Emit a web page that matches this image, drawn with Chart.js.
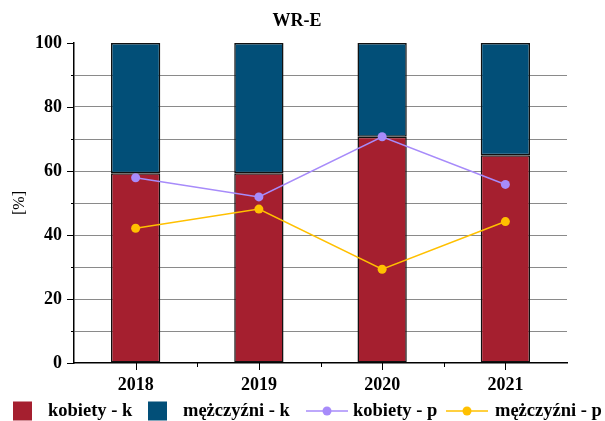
<!DOCTYPE html>
<html>
<head>
<meta charset="utf-8">
<script src="https://cdn.jsdelivr.net/npm/chart.js@4.4.1/dist/chart.umd.min.js"></script>
<style>
  html, body { margin: 0; padding: 0; background: #fff; }
  #wrap { position: relative; width: 605px; height: 421px; }
</style>
</head>
<body>
<div id="wrap"><canvas id="chart" width="605" height="421"></canvas></div>
<script>
const years = ["2018", "2019", "2020", "2021"];
const kobietyK = [59.3, 59.3, 70.7, 64.9];
const mezczyzniK = [40.7, 40.7, 29.3, 35.1];
const kobietyP = [57.9, 51.9, 70.7, 55.8];
const mezczyzniP = [42.1, 48.1, 29.3, 44.2];

const RED = "#A51F2F";
const BLUE = "#024F78";
const PURPLE = "#A78BFA";
const YELLOW = "#FFC000";
const FONT = "'Liberation Serif', 'DejaVu Serif', serif";

// small tick marks on both axes (major/minor)
const tickMarks = {
  id: "tickMarks",
  afterDraw(chart) {
    const { ctx, chartArea, scales: { x, y } } = chart;
    ctx.save();
    ctx.strokeStyle = "#000";
    ctx.lineWidth = 1;
    ctx.beginPath();
    for (let v = 0; v <= 100; v += 10) {
      const py = Math.round(y.getPixelForValue(v)) + 0.5;
      const len = v % 20 === 0 ? 7 : 3;
      ctx.moveTo(chartArea.left - len, py);
      ctx.lineTo(chartArea.left, py);
    }
    years.forEach((_, i) => {
      const px = Math.round(x.getPixelForValue(i)) + 0.5;
      ctx.moveTo(px, chartArea.bottom);
      ctx.lineTo(px, chartArea.bottom + 7);
      if (i < years.length - 1) {
        const mx = Math.round((x.getPixelForValue(i) + x.getPixelForValue(i + 1)) / 2) + 0.5;
        ctx.moveTo(mx, chartArea.bottom);
        ctx.lineTo(mx, chartArea.bottom + 4);
      }
    });
    ctx.stroke();
    ctx.restore();
  }
};

// title and legend drawn by hand to match the original layout
const titleAndLegend = {
  id: "titleAndLegend",
  afterDraw(chart) {
    const ctx = chart.ctx;
    ctx.save();
    ctx.fillStyle = "#000";
    ctx.font = "bold 18px " + FONT;
    ctx.textAlign = "center";
    ctx.textBaseline = "middle";
    ctx.fillText("WR-E", 297, 21);

    const ly = 411;
    ctx.textAlign = "left";
    ctx.font = "bold 18.5px " + FONT;
    const items = [
      { type: "box", color: RED, x: 13, text: "kobiety - k", tx: 48 },
      { type: "box", color: BLUE, x: 148, text: "mężczyźni - k", tx: 183 },
      { type: "line", color: PURPLE, x: 306, text: "kobiety - p", tx: 353 },
      { type: "line", color: YELLOW, x: 446, text: "mężczyźni - p", tx: 495 }
    ];
    items.forEach(it => {
      if (it.type === "box") {
        ctx.fillStyle = it.color;
        ctx.fillRect(it.x, ly - 9.5, 19, 19);
      } else {
        ctx.strokeStyle = it.color;
        ctx.lineWidth = 1.5;
        ctx.beginPath();
        ctx.moveTo(it.x, ly);
        ctx.lineTo(it.x + 42, ly);
        ctx.stroke();
        ctx.fillStyle = it.color;
        ctx.beginPath();
        ctx.arc(it.x + 21, ly, 4.5, 0, Math.PI * 2);
        ctx.fill();
      }
      ctx.fillStyle = "#000";
      ctx.fillText(it.text, it.tx, ly);
    });
    ctx.restore();
  }
};

new Chart(document.getElementById("chart"), {
  type: "bar",
  data: {
    labels: years,
    datasets: [
      {
        label: "kobiety - k",
        data: kobietyK,
        backgroundColor: RED,
        borderColor: "#111",
        borderWidth: 1.5,
        borderSkipped: false,
        stack: "k",
        order: 2
      },
      {
        label: "mężczyźni - k",
        data: mezczyzniK,
        backgroundColor: BLUE,
        borderColor: "#111",
        borderWidth: 1.5,
        borderSkipped: false,
        stack: "k",
        order: 2
      },
      {
        type: "line",
        label: "kobiety - p",
        data: kobietyP,
        borderColor: PURPLE,
        backgroundColor: PURPLE,
        borderWidth: 1.5,
        pointRadius: 4.5,
        pointBorderWidth: 0,
        stack: "p1",
        order: 1
      },
      {
        type: "line",
        label: "mężczyźni - p",
        data: mezczyzniP,
        borderColor: YELLOW,
        backgroundColor: YELLOW,
        borderWidth: 1.5,
        pointRadius: 4.5,
        pointBorderWidth: 0,
        stack: "p2",
        order: 1
      }
    ]
  },
  options: {
    responsive: false,
    animation: false,
    devicePixelRatio: 1,
    layout: { padding: { top: 43, right: 38, bottom: 0, left: 0 } },
    datasets: {
      bar: { categoryPercentage: 1, barPercentage: 0.4 }
    },
    plugins: {
      legend: { display: false },
      title: { display: false },
      tooltip: { enabled: false }
    },
    scales: {
      x: {
        stacked: true,
        grid: { display: false, drawTicks: false },
        border: { color: "#000", width: 1.5 },
        ticks: {
          color: "#000",
          padding: 12,
          font: { family: FONT, size: 18, weight: "bold" }
        },
        afterFit(scale) { scale.height = 58; }
      },
      y: {
        stacked: true,
        min: 0,
        max: 100,
        grid: {
          drawTicks: false,
          color: ctx => (ctx.tick && (ctx.tick.value === 100 || ctx.tick.value === 0)) ? "rgba(0,0,0,0)" : "#8a8a8a",
          lineWidth: 1
        },
        border: { color: "#000", width: 1.5 },
        ticks: {
          stepSize: 10,
          color: "#000",
          padding: 12,
          font: { family: FONT, size: 18, weight: "bold" },
          callback: v => (v % 20 === 0 ? v : "")
        },
        title: {
          display: true,
          text: "[%]",
          color: "#000",
          font: { family: FONT, size: 16 },
          padding: { top: 10, bottom: 0 }
        },
        afterFit(scale) { scale.width = 74; }
      }
    }
  },
  plugins: [tickMarks, titleAndLegend]
});
</script>
</body>
</html>
